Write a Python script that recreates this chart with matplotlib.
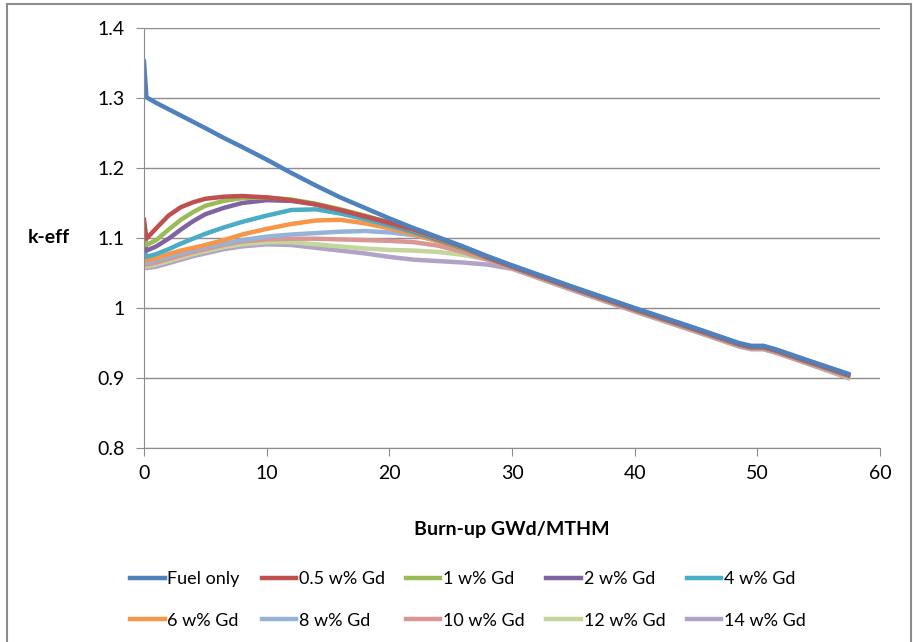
import matplotlib
matplotlib.use("Agg")
import matplotlib.pyplot as plt
from matplotlib.patches import Rectangle

plt.rcParams['font.family'] = ['Lato', 'DejaVu Sans']

burnup = [0, 0.2, 1, 2, 3, 4, 5, 6.5, 8, 10, 12, 14, 16, 18, 20, 22, 24, 26, 28,
          30, 35, 40, 45, 48.5, 49.5, 50.5, 51.5, 54, 57.4]

fuel_only = [1.352, 1.301, 1.293, 1.284, 1.275, 1.266, 1.257, 1.243, 1.230, 1.212,
             1.193, 1.175, 1.158, 1.143, 1.128, 1.114, 1.101, 1.088, 1.074,
             1.061, 1.030, 1.000, 0.971, 0.950, 0.946, 0.946, 0.941, 0.926, 0.906]
gd_05 = [1.126, 1.099, 1.114, 1.132, 1.144, 1.151, 1.156, 1.159, 1.160, 1.158,
         1.154, 1.148, 1.140, 1.131, 1.122, 1.112, 1.100, 1.087, 1.073,
         1.060, 1.029, 0.999, 0.970, 0.949, 0.945, 0.945, 0.940, 0.925, 0.905]
gd_1 = [1.113, 1.090, 1.097, 1.112, 1.126, 1.137, 1.146, 1.153, 1.157, 1.158,
        1.155, 1.149, 1.141, 1.132, 1.122, 1.111, 1.099, 1.086, 1.073,
        1.060, 1.029, 0.999, 0.970, 0.949, 0.945, 0.945, 0.940, 0.925, 0.905]
gd_2 = [1.100, 1.082, 1.088, 1.099, 1.112, 1.124, 1.134, 1.143, 1.150, 1.154,
        1.153, 1.148, 1.140, 1.131, 1.121, 1.110, 1.098, 1.086, 1.072,
        1.059, 1.028, 0.998, 0.969, 0.948, 0.944, 0.944, 0.939, 0.924, 0.904]
gd_4 = [1.086, 1.073, 1.077, 1.084, 1.092, 1.099, 1.106, 1.115, 1.123, 1.132,
        1.140, 1.141, 1.135, 1.127, 1.118, 1.108, 1.097, 1.085, 1.072,
        1.059, 1.028, 0.998, 0.969, 0.948, 0.944, 0.944, 0.939, 0.924, 0.904]
gd_6 = [1.078, 1.068, 1.071, 1.077, 1.082, 1.086, 1.090, 1.097, 1.105, 1.113,
        1.120, 1.125, 1.126, 1.121, 1.114, 1.105, 1.095, 1.084, 1.071,
        1.058, 1.027, 0.997, 0.968, 0.947, 0.943, 0.943, 0.938, 0.923, 0.903]
gd_8 = [1.072, 1.065, 1.068, 1.073, 1.078, 1.083, 1.087, 1.092, 1.097, 1.102,
        1.105, 1.107, 1.109, 1.110, 1.108, 1.104, 1.096, 1.084, 1.071,
        1.058, 1.027, 0.997, 0.968, 0.947, 0.943, 0.943, 0.938, 0.923, 0.903]
gd_10 = [1.068, 1.062, 1.065, 1.070, 1.075, 1.080, 1.084, 1.090, 1.095, 1.098,
         1.099, 1.099, 1.098, 1.097, 1.096, 1.094, 1.089, 1.080, 1.069,
         1.057, 1.026, 0.996, 0.967, 0.946, 0.942, 0.942, 0.937, 0.922, 0.902]
gd_12 = [1.065, 1.059, 1.062, 1.067, 1.072, 1.077, 1.081, 1.087, 1.091, 1.094,
         1.094, 1.091, 1.088, 1.085, 1.083, 1.082, 1.080, 1.076, 1.069,
         1.057, 1.026, 0.996, 0.967, 0.946, 0.942, 0.942, 0.937, 0.922, 0.901]
gd_14 = [1.063, 1.057, 1.059, 1.064, 1.069, 1.074, 1.078, 1.084, 1.088, 1.091,
         1.090, 1.086, 1.082, 1.078, 1.073, 1.069, 1.067, 1.065, 1.062,
         1.056, 1.025, 0.995, 0.966, 0.945, 0.941, 0.941, 0.936, 0.921, 0.900]

labels = ["Fuel only", "0.5 w% Gd", "1 w% Gd", "2 w% Gd", "4 w% Gd",
          "6 w% Gd", "8 w% Gd", "10 w% Gd", "12 w% Gd", "14 w% Gd"]
series = [fuel_only, gd_05, gd_1, gd_2, gd_4, gd_6, gd_8, gd_10, gd_12, gd_14]
colors = ["#4F81BD", "#C0504D", "#9BBB59", "#8064A2", "#4BACC6",
          "#F79646", "#95B3D7", "#D99694", "#C3D69B", "#B3A2C7"]

fig = plt.figure(figsize=(9.13, 6.42), dpi=100)
ax = fig.add_axes([144 / 913, 1 - 448 / 642, (880 - 144) / 913, (448 - 28) / 642])

# draw in reverse so the low-Gd curves sit on top, like Excel
lines = []
for lab, y, c in reversed(list(zip(labels, series, colors))):
    ln, = ax.plot(burnup, y, color=c, lw=3.2, label=lab)
    lines.append(ln)
lines = lines[::-1]

ax.set_xlim(0, 60)
ax.set_ylim(0.8, 1.4)
ax.set_xticks(range(0, 61, 10))
ax.set_yticks([0.8, 0.9, 1.0, 1.1, 1.2, 1.3, 1.4])
ax.set_yticklabels(["0.8", "0.9", "1", "1.1", "1.2", "1.3", "1.4"])
ax.grid(True, axis="y", color="#8c8c8c", lw=1)
ax.set_axisbelow(True)
for s in ["top", "right"]:
    ax.spines[s].set_visible(False)
for s in ["left", "bottom"]:
    ax.spines[s].set_color("#8c8c8c")
ax.tick_params(axis="both", colors="#8c8c8c", labelcolor="black",
               labelsize=14, length=6, direction="out")
ax.tick_params(axis="y", pad=8)
ax.tick_params(axis="x", pad=6)

ax.set_xlabel("Burn-up GWd/MTHM", fontsize=14, fontweight="bold", labelpad=28)
fig.text(70 / 913, 1 - 238 / 642, "k-eff", fontsize=14, fontweight="bold",
         ha="right", va="center")

order = [0, 5, 1, 6, 2, 7, 3, 8, 4, 9]
fig.legend([lines[i] for i in order], [labels[i] for i in order],
           ncol=5, loc="center", bbox_to_anchor=(468 / 913, 1 - 600 / 642),
           frameon=False, fontsize=13, handlelength=1.9, handletextpad=0.15,
           columnspacing=1.2, labelspacing=1.4)

fig.patches.append(Rectangle((7 / 913, -0.02), (911 - 7) / 913, 1 - 4 / 642 + 0.02,
                             transform=fig.transFigure, fill=False,
                             edgecolor="#8c8c8c", lw=1.5))

fig.savefig("out.png", dpi=100, facecolor="white")
